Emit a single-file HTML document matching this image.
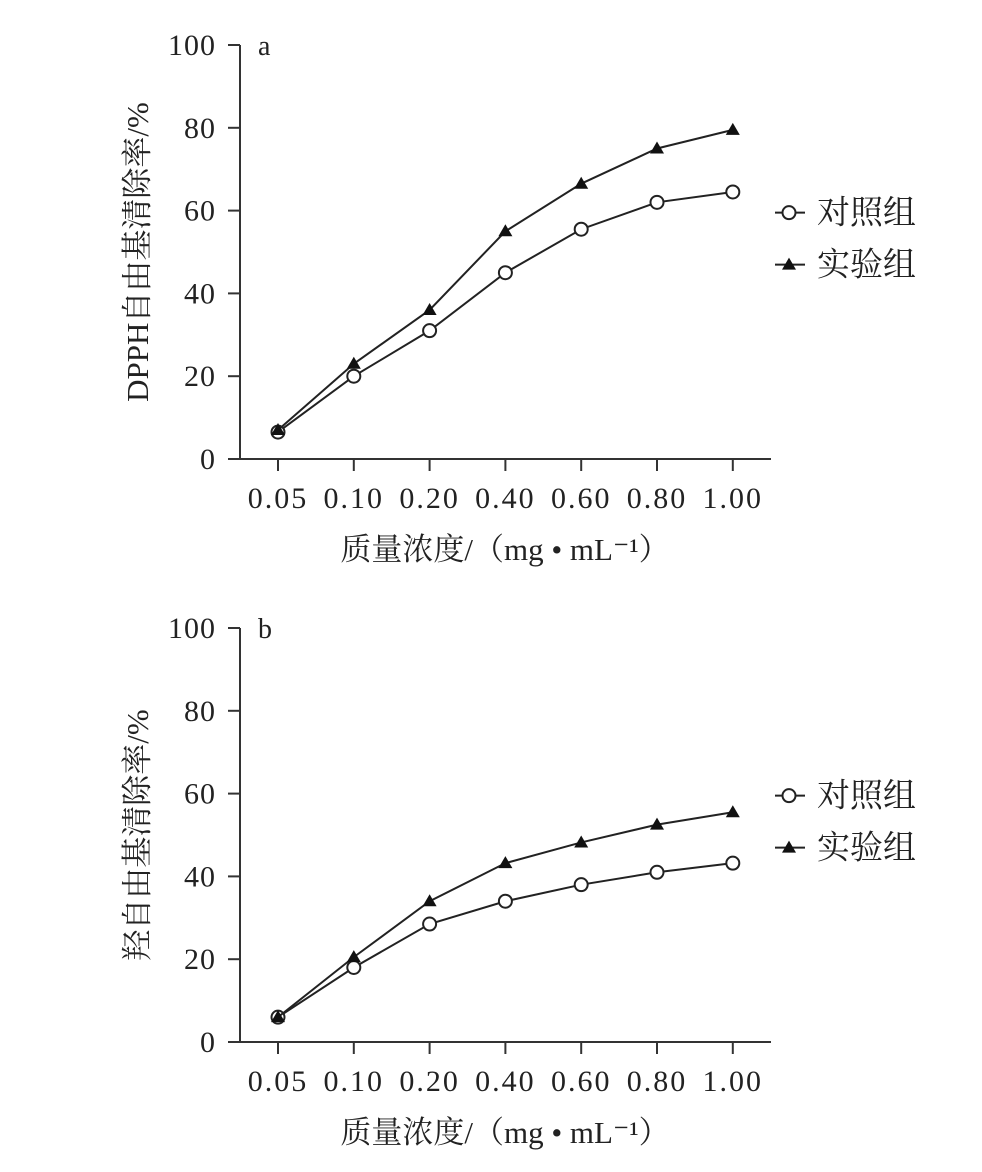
<!DOCTYPE html>
<html><head><meta charset="utf-8"><style>
body{margin:0;background:#fff}
svg text{font-family:"Liberation Serif","Noto Serif CJK SC","Noto Sans CJK SC",serif;fill:#222}
</style></head><body>
<svg width="982" height="1167" xmlns="http://www.w3.org/2000/svg">
<defs>
<g id="tri"><polygon points="0,-7 7,5 -7,5" fill="#111"/></g>
<g id="cir"><circle r="6.5" fill="#fff" stroke="#222" stroke-width="2"/></g>
</defs>
<script>
<![CDATA[
(function(){
var ns="http://www.w3.org/2000/svg",svg=document.querySelector('svg');
function el(t,a,txt){var e=document.createElementNS(ns,t);for(var k in a)e.setAttribute(k,a[k]);if(txt!==undefined)e.textContent=txt;svg.appendChild(e);return e;}
function plot(top,bot,letter,ylab,c,x){
 var X=function(i){return 278+i*75.8}, Y=function(v){return bot-(bot-top)*v/100};
 el('line',{x1:240,y1:top,x2:240,y2:bot,stroke:'#333','stroke-width':2});
 el('line',{x1:228,y1:bot,x2:771,y2:bot,stroke:'#333','stroke-width':2});
 for(var v=0;v<=100;v+=20){var y=Y(v);el('line',{x1:228,y1:y,x2:240,y2:y,stroke:'#333','stroke-width':2});
  el('text',{x:216,y:y+10,'text-anchor':'end','font-size':30,'letter-spacing':1},String(v));}
 var lab=['0.05','0.10','0.20','0.40','0.60','0.80','1.00'];
 for(var i=0;i<7;i++){el('line',{x1:X(i),y1:bot,x2:X(i),y2:bot+12,stroke:'#333','stroke-width':2});
  el('text',{x:X(i),y:bot+49,'text-anchor':'middle','font-size':30,'letter-spacing':2},lab[i]);}
 el('text',{x:258,y:top+10,'font-size':28},letter);
 el('text',{x:0,y:0,'text-anchor':'middle','font-size':31,transform:'translate(148,'+((top+bot)/2)+') rotate(-90)'},ylab);
 el('text',{x:505,y:bot+101,'text-anchor':'middle','font-size':31},'质量浓度/（mg • mL⁻¹）');
 [c,x].forEach(function(d,k){var p=d.map(function(v,i){return X(i)+','+Y(v)}).join(' ');
  el('polyline',{points:p,fill:'none',stroke:'#222','stroke-width':2});
  d.forEach(function(v,i){el('use',{href:k?'#tri':'#cir',x:X(i),y:Y(v)})});});
 var ly1=top+(bot-top)*0.405, ly2=ly1+52;
 el('line',{x1:775,y1:ly1,x2:805,y2:ly1,stroke:'#222','stroke-width':2});el('use',{href:'#cir',x:789,y:ly1});
 el('text',{x:817,y:ly1+11,'font-size':33},'对照组');
 el('line',{x1:775,y1:ly2,x2:805,y2:ly2,stroke:'#222','stroke-width':2});el('use',{href:'#tri',x:789,y:ly2});
 el('text',{x:817,y:ly2+11,'font-size':33},'实验组');
}
plot(45,459,'a','DPPH自由基清除率/%',[6.5,20,31,45,55.5,62,64.5],[7,23,36,55,66.5,75,79.5]);
plot(628,1042,'b','羟自由基清除率/%',[6,18,28.5,34,38,41,43.2],[6,20.5,34,43.2,48.2,52.5,55.5]);
})();
]]>
</script>
</svg>
</body></html>
